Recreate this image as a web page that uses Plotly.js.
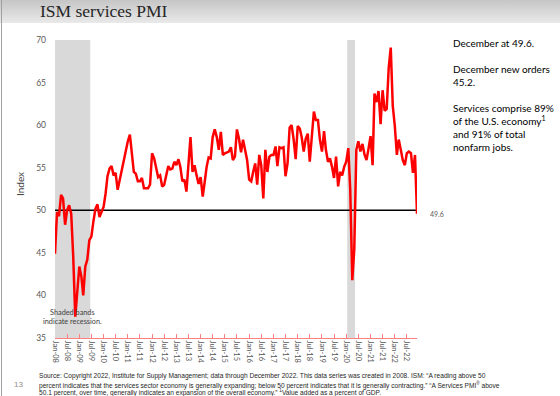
<!DOCTYPE html>
<html>
<head>
<meta charset="utf-8">
<script src="https://cdn.plot.ly/plotly-3.0.1.min.js"></script>
<style>
  html, body { margin: 0; padding: 0; background: #ffffff; }
  #wrap { position: relative; width: 560px; height: 396px;
          background: linear-gradient(to bottom, #c6c6c6 0px, #e9e9e9 23px, #ffffff 23px, #ffffff 100%); }
  #edge { position: absolute; left: 1px; top: 0; width: 1px; height: 396px; background: #a0a0a0; }
  #chart { position: absolute; left: 0; top: 0; width: 560px; height: 396px; }
</style>
</head>
<body>
<div id="wrap"><div id="edge"></div><div id="chart"></div></div>
<script>
// ISM services PMI, monthly, Jan 2008 - Dec 2022
const startYear = 2008;
const pmi = [
  44.9, 49.8, 49.3, 51.8, 51.4, 48.3, 50.0, 50.6, 49.6, 44.6, 37.5, 40.4,   // 2008
  43.4, 42.2, 40.0, 43.4, 44.2, 46.5, 46.9, 48.7, 50.2, 50.7, 49.2, 49.8,   // 2009
  50.4, 52.0, 54.0, 54.9, 55.2, 54.1, 54.4, 52.4, 53.6, 54.9, 55.7, 57.1,   // 2010
  58.1, 58.9, 57.1, 54.5, 54.3, 53.4, 53.4, 53.8, 52.6, 52.6, 52.6, 53.0,   // 2011
  56.7, 56.1, 55.1, 53.9, 54.1, 52.8, 53.0, 54.3, 55.2, 54.8, 54.9, 55.7,   // 2012
  55.3, 56.0, 55.1, 53.4, 53.6, 52.2, 55.5, 58.6, 54.5, 55.3, 54.1, 53.1,   // 2013
  53.9, 51.6, 53.2, 55.1, 56.2, 56.1, 58.6, 59.5, 58.6, 57.1, 59.2, 56.5,   // 2014
  56.7, 56.8, 56.9, 57.4, 55.9, 56.3, 59.5, 58.4, 56.8, 58.3, 57.1, 55.9,   // 2015
  53.6, 53.4, 54.5, 55.5, 53.0, 56.5, 55.3, 51.4, 57.1, 54.5, 56.3, 56.5,   // 2016
  56.5, 57.5, 55.2, 57.4, 57.3, 57.4, 54.0, 55.5, 59.7, 60.0, 58.3, 56.0,   // 2017
  59.9, 59.6, 58.6, 56.9, 58.4, 59.0, 55.7, 58.6, 61.6, 60.6, 60.6, 58.3,   // 2018
  56.9, 59.3, 57.1, 55.7, 56.1, 55.1, 53.8, 56.3, 52.8, 54.5, 54.1, 55.1,   // 2019
  55.7, 57.3, 52.5, 41.8, 45.4, 57.1, 58.1, 56.9, 57.8, 56.6, 55.9, 57.2,   // 2020
  58.7, 55.3, 63.7, 62.7, 64.0, 60.1, 64.1, 61.7, 61.9, 66.7, 69.1, 62.3,   // 2021
  59.9, 56.5, 58.3, 57.1, 55.9, 55.3, 56.7, 56.9, 56.7, 54.4, 56.5, 49.6    // 2022
];
const tickLabels = [
  "Jan-08","Jul-08","Jan-09","Jul-09","Jan-10","Jul-10","Jan-11","Jul-11",
  "Jan-12","Jul-12","Jan-13","Jul-13","Jan-14","Jul-14","Jan-15","Jul-15",
  "Jan-16","Jul-16","Jan-17","Jul-17","Jan-18","Jul-18","Jan-19","Jul-19",
  "Jan-20","Jul-20","Jan-21","Jul-21","Jan-22","Jul-22"
];
const recessionStart = ["2007-12-01", "2020-01-16"];
const recessionEnd   = ["2009-06-15", "2020-05-13"];
const threshold = 50;
const lastValueLabel = "49.6";
const sideParagraphs = [
  "December at 49.6.",
  "December new orders<br>45.2.",
  "Services comprise 89%<br>of the U.S. economy<sup>1</sup><br>and 91% of total<br>nonfarm jobs."
];
const footerLines = [
  "Source: Copyright 2022, Institute for Supply Management; data through December 2022. This data series was created in 2008. ISM: \u201CA reading above 50",
  "percent indicates that the services sector economy is generally expanding; below 50 percent indicates that it is generally contracting.\u201D \u201CA Services PMI<sup>\u00AE</sup> above",
  "50.1 percent, over time, generally indicates an expansion of the overall economy.\u201D <sup>1</sup>Value added as a percent of GDP."
];

function pad(n) { return (n < 10 ? "0" : "") + n; }
const dates = pmi.map((v, i) => (startYear + Math.floor(i / 12)) + "-" + pad(i % 12 + 1) + "-01");
const monthIdx = {Jan: 1, Jul: 7};
const tickVals = tickLabels.map(t => "20" + t.slice(4) + "-" + pad(monthIdx[t.slice(0, 3)]) + "-01");

const L = 55, R = 143, T = 40, B = 58, W = 560, H = 396;
const pw = W - L - R, ph = H - T - B;
const px = x => (x - L) / pw;
const py = y => (H - B - y) / ph;

const sans = "Lato, 'Open Sans', sans-serif";

const shapes = recessionStart.map((s, i) => ({
  type: "rect", xref: "x", yref: "paper", x0: s < dates[0] ? dates[0] : s, x1: recessionEnd[i],
  y0: 0, y1: 1, fillcolor: "#d9d9d9", line: {width: 0}, layer: "below"
}));
shapes.push({
  type: "line", xref: "x", yref: "y", x0: dates[0], x1: dates[dates.length - 1],
  y0: threshold, y1: threshold, line: {color: "#000000", width: 1.5}, layer: "below"
});

const annotations = [
  {text: "Index", xref: "paper", yref: "paper", x: px(19.5), y: py(184.5), textangle: -90,
   showarrow: false, font: {family: sans, size: 10, color: "#404040"}, xanchor: "center", yanchor: "middle"},
  {text: "Shaded bands<br>indicate recession.", xref: "paper", yref: "paper", x: px(72.5), y: py(316.5),
   showarrow: false, align: "center", font: {family: sans, size: 7.3, color: "#404040"},
   xanchor: "center", yanchor: "middle"},
  {text: lastValueLabel, xref: "paper", yref: "y", x: px(428), y: pmi[pmi.length - 1],
   showarrow: false, font: {family: sans, size: 7, color: "#595959"}, xanchor: "left", yanchor: "middle"},
  {text: "13", xref: "paper", yref: "paper", x: px(18), y: py(384), showarrow: false,
   font: {family: "'Liberation Sans', Arial, sans-serif", size: 8, color: "#8c8c8c"}, xanchor: "center", yanchor: "middle"}
];
const sideTops = [35, 61, 100];
sideParagraphs.forEach((t, i) => annotations.push({
  text: t, xref: "paper", yref: "paper", x: px(451), y: py(sideTops[i]),
  showarrow: false, align: "left", font: {family: sans, size: 10, color: "#000000"},
  xanchor: "left", yanchor: "top"
}));
const footY = [376, 384.5, 392.5];
footerLines.forEach((t, i) => annotations.push({
  text: t, xref: "paper", yref: "paper", x: px(36.5), y: py(footY[i]), showarrow: false,
  align: "left", xanchor: "left", yanchor: "middle",
  font: {family: "'Liberation Sans', Arial, sans-serif", size: 6.6, color: "#262626"}
}));

const trace = {
  type: "scatter", mode: "lines", x: dates, y: pmi,
  line: {color: "#ff0000", width: 2.5}, hoverinfo: "skip", showlegend: false
};

const layout = {
  width: W, height: H,
  margin: {l: L, r: R, t: T, b: B, pad: 0},
  paper_bgcolor: "rgba(0,0,0,0)", plot_bgcolor: "rgba(0,0,0,0)",
  title: {text: "ISM services PMI", xref: "container", yref: "container",
          x: 40 / W, xanchor: "left", y: 1 - 11 / H, yanchor: "middle",
          font: {family: "'Liberation Serif', 'Times New Roman', serif", size: 17.5, color: "#262626"}},
  xaxis: {type: "date", range: [dates[0], dates[dates.length - 1]], tickmode: "array",
          tickvals: tickVals, ticktext: tickLabels, tickangle: 90,
          tickfont: {family: sans, size: 7.5, color: "#595959"},
          showline: true, linecolor: "#ff8080", linewidth: 1,
          ticks: "inside", ticklen: 4, tickcolor: "#ff8080", tickwidth: 1,
          showgrid: false, zeroline: false, fixedrange: true},
  yaxis: {range: [35, 70], tickmode: "array", tickvals: [35, 40, 45, 50, 55, 60, 65, 70],
          tickfont: {family: sans, size: 8.5, color: "#595959"}, ticklabelstandoff: 8,
          showline: false, ticks: "", showgrid: false, zeroline: false, fixedrange: true},
  shapes: shapes,
  annotations: annotations
};

Plotly.newPlot("chart", [trace], layout, {displayModeBar: false, staticPlot: true});
</script>
</body>
</html>
